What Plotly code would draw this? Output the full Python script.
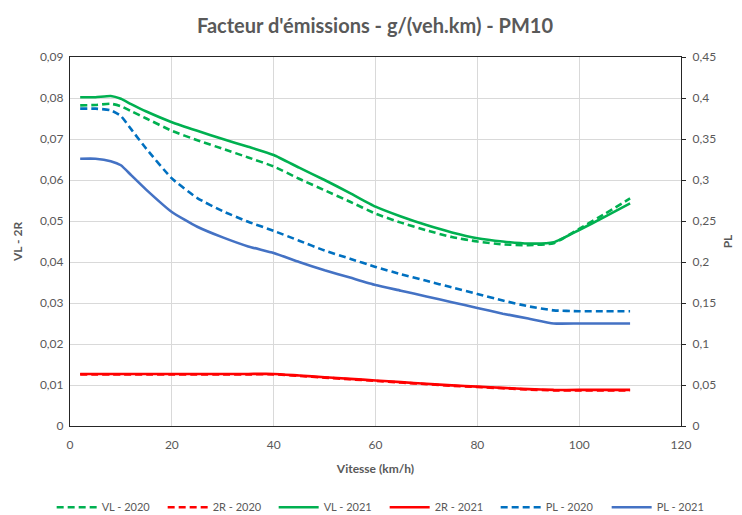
import plotly.graph_objects as go

speeds = [2, 5, 8, 10, 12, 15, 20, 25, 30, 35, 40, 45, 50, 55, 60, 65, 70, 75, 80, 85, 90, 95, 100, 105, 110]

vl_2020 = [0.0782, 0.0783, 0.0786, 0.0780, 0.0768, 0.0750, 0.0720, 0.0697, 0.0676, 0.0655, 0.0633,
           0.0603, 0.0575, 0.0547, 0.0518, 0.0496, 0.0477, 0.0461, 0.0450, 0.0443, 0.0441, 0.0446,
           0.0481, 0.0517, 0.0555]
r2_2020 = [0.0126, 0.0126, 0.0126, 0.0126, 0.0126, 0.0126, 0.0126, 0.0126, 0.0126, 0.0126, 0.0126,
           0.0122, 0.0118, 0.0114, 0.0110, 0.0106, 0.0102, 0.0098, 0.0095, 0.0092, 0.0089, 0.0087,
           0.0087, 0.0087, 0.0087]
vl_2021 = [0.0802, 0.0802, 0.0805, 0.0798, 0.0785, 0.0767, 0.0741, 0.0720, 0.0700, 0.0681, 0.0661,
           0.0630, 0.0600, 0.0568, 0.0535, 0.0511, 0.0490, 0.0472, 0.0458, 0.0450, 0.0445, 0.0448,
           0.0478, 0.0510, 0.0543]
r2_2021 = [0.0127, 0.0127, 0.0127, 0.0127, 0.0127, 0.0127, 0.0127, 0.0127, 0.0127, 0.0127, 0.0127,
           0.0123, 0.0119, 0.0115, 0.0111, 0.0107, 0.0103, 0.0099, 0.0096, 0.0093, 0.0090, 0.0088,
           0.0088, 0.0088, 0.0088]
pl_2020 = [0.387, 0.387, 0.385, 0.378, 0.362, 0.338, 0.302, 0.278, 0.262, 0.249, 0.238,
           0.226, 0.214, 0.204, 0.194, 0.185, 0.177, 0.169, 0.161, 0.153, 0.146, 0.141,
           0.140, 0.140, 0.140]
pl_2021 = [0.326, 0.326, 0.323, 0.318, 0.306, 0.288, 0.261, 0.243, 0.230, 0.219, 0.211,
           0.200, 0.190, 0.181, 0.172, 0.165, 0.158, 0.151, 0.144, 0.137, 0.131, 0.125,
           0.125, 0.125, 0.125]

left_ticks = [0, 0.01, 0.02, 0.03, 0.04, 0.05, 0.06, 0.07, 0.08, 0.09]
left_labels = ["0", "0,01", "0,02", "0,03", "0,04", "0,05", "0,06", "0,07", "0,08", "0,09"]
right_ticks = [0, 0.05, 0.1, 0.15, 0.2, 0.25, 0.3, 0.35, 0.4, 0.45]
right_labels = ["0", "0,05", "0,1", "0,15", "0,2", "0,25", "0,3", "0,35", "0,4", "0,45"]

GREEN = "#00B050"
RED = "#FF0000"
BLUE_D = "#0070C0"
BLUE_S = "#4472C4"
DASH = "7px,4px"
W = 2.6
SHAPE = dict(shape="spline", smoothing=0.5)

fig = go.Figure()
fig.add_trace(go.Scatter(x=speeds, y=vl_2020, name="VL - 2020", mode="lines",
                         line=dict(color=GREEN, width=W, dash=DASH, **SHAPE)))
fig.add_trace(go.Scatter(x=speeds, y=r2_2020, name="2R - 2020", mode="lines",
                         line=dict(color=RED, width=W, dash=DASH, **SHAPE)))
fig.add_trace(go.Scatter(x=speeds, y=vl_2021, name="VL - 2021", mode="lines",
                         line=dict(color=GREEN, width=W, **SHAPE)))
fig.add_trace(go.Scatter(x=speeds, y=r2_2021, name="2R - 2021", mode="lines",
                         line=dict(color=RED, width=W, **SHAPE)))
fig.add_trace(go.Scatter(x=speeds, y=pl_2020, name="PL - 2020", mode="lines", yaxis="y2",
                         line=dict(color=BLUE_D, width=W, dash=DASH, **SHAPE)))
fig.add_trace(go.Scatter(x=speeds, y=pl_2021, name="PL - 2021", mode="lines", yaxis="y2",
                         line=dict(color=BLUE_S, width=W, **SHAPE)))

FONT = "Lato, 'Open Sans', sans-serif"
GREY = "#595959"

# page body has an 8px margin; figure sized so it fits the 742x515 window
fig.update_layout(
    width=734, height=507,
    margin=dict(l=62, r=61, t=49, b=89, autoexpand=False),
    paper_bgcolor="white", plot_bgcolor="white",
    font=dict(family=FONT, color=GREY, size=12),
    title=dict(text="<b>Facteur d'émissions - g/(veh.km) - PM10</b>",
               x=0.5, xanchor="center", y=0.965, yanchor="middle",
               font=dict(size=20, color=GREY, family=FONT)),
    xaxis=dict(range=[0, 120], tickvals=[0, 20, 40, 60, 80, 100, 120],
               showgrid=True, gridcolor="#D9D9D9", gridwidth=1,
               showline=True, mirror=True, linecolor="#262626", linewidth=1.2,
               zeroline=False, ticks="", ticklabelstandoff=7,
               tickfont=dict(size=12, color=GREY), automargin=False,
               title=dict(text="<b>Vitesse (km/h)</b>", font=dict(size=12, color=GREY), standoff=14)),
    yaxis=dict(range=[0, 0.09], tickvals=left_ticks, ticktext=left_labels,
               showgrid=True, gridcolor="#D9D9D9", gridwidth=1,
               showline=True, linecolor="#262626", linewidth=1.2, automargin=False,
               zeroline=False, ticks="", ticklabelstandoff=3,
               tickfont=dict(size=12, color=GREY),
               title=dict(text="<b>VL - 2R</b>", font=dict(size=12, color=GREY), standoff=14)),
    yaxis2=dict(range=[0, 0.45], tickvals=right_ticks, ticktext=right_labels,
                overlaying="y", side="right", showgrid=False, automargin=False,
                showline=True, linecolor="#262626", linewidth=1.2,
                zeroline=False, ticks="outside", ticklen=4, tickcolor="#262626",
                ticklabelstandoff=4, tickfont=dict(size=12, color=GREY),
                title=dict(text="<b>PL</b>", font=dict(size=12, color=GREY), standoff=8)),
    legend=dict(orientation="h", x=-0.03, xanchor="left", y=-0.22, yanchor="middle",
                font=dict(size=11, color=GREY), itemwidth=40, entrywidth=56,
                entrywidthmode="pixels", tracegroupgap=0, traceorder="normal"),
)

fig.write_html("out.html")
